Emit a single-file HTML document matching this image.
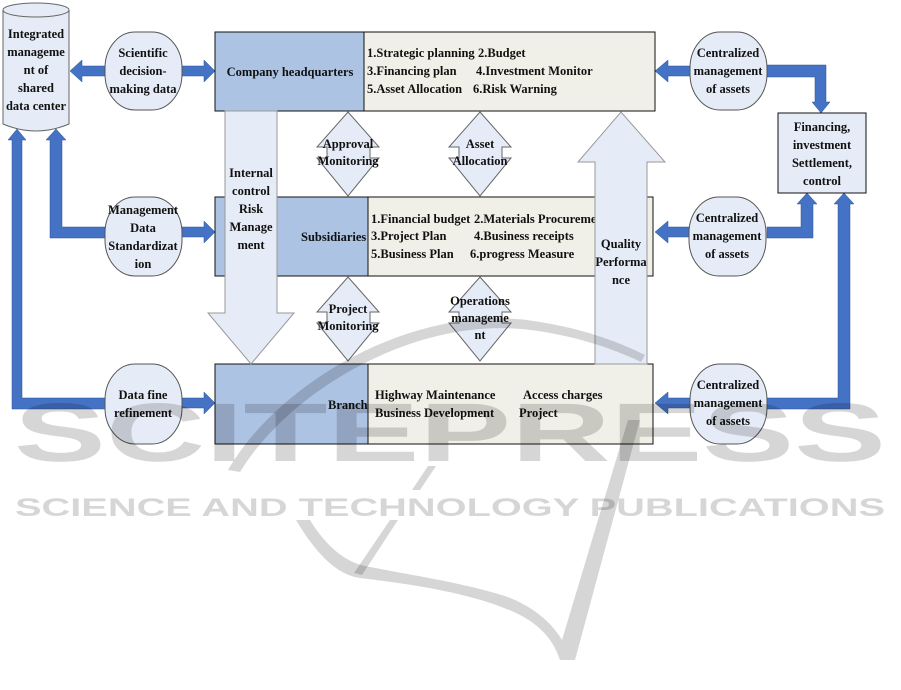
<!DOCTYPE html>
<html><head><meta charset="utf-8"><style>
html,body{margin:0;padding:0;background:#fff}
svg{display:block}
text{font-family:"Liberation Serif",serif;font-weight:bold;font-size:12.5px;fill:#111}
.c{text-anchor:middle}
</style></head><body>
<svg width="901" height="690" viewBox="0 0 901 690" xmlns="http://www.w3.org/2000/svg">

<path d="M3,10 A33,7 0 0 1 69,10 L69,124 Q36,138 3,124 Z" fill="#e6ecf7" stroke="#666" stroke-width="1"/>
<path d="M3,10 A33,7 0 0 0 69,10" fill="none" stroke="#666"/>
<text class="c" x="36" y="38">Integrated</text>
<text class="c" x="36" y="56">manageme</text>
<text class="c" x="36" y="74">nt of</text>
<text class="c" x="36" y="92">shared</text>
<text class="c" x="36" y="110">data center</text>

<g fill="#4472c4" stroke="#2f5597" stroke-width="0.5">
<polygon points="105,66 82,66 82,60 70,71 82,82 82,76 105,76"/>
<polygon points="182,66 204,66 204,60 215,71 204,82 204,76 182,76"/>
<polygon points="182,227 204,227 204,221 215,232 204,243 204,237 182,237"/>
<polygon points="182,398 204,398 204,392 215,403 204,414 204,408 182,408"/>
<polygon points="105,227 62,227 62,140 66,140 56,129 46,140 50,140 50,238 105,238"/>
<polygon points="105,398 22,398 22,140 26,140 17,129 8,140 12,140 12,409 105,409"/>
<polygon points="690,66 668,66 668,60 655,71 668,82 668,76 690,76"/>
<polygon points="690,227 668,227 668,221 655,232 668,243 668,237 690,237"/>
<polygon points="690,398 668,398 668,392 655,403 668,414 668,408 690,408"/>
<polygon points="767,65 826,65 826,102 830,102 821,113 812,102 815,102 815,77 767,77"/>
<polygon points="767,227 801,227 801,204 797,204 807,193 817,204 813,204 813,238 767,238"/>
<polygon points="767,398 838,398 838,204 834,204 844,193 854,204 850,204 850,409 767,409"/>
</g>

<g fill="#e6ecf7" stroke="#555" stroke-width="1">
<rect x="105" y="32" width="77" height="78" rx="30" ry="36"/>
<rect x="105" y="197" width="77" height="79" rx="30" ry="36"/>
<rect x="105" y="364" width="77" height="80" rx="30" ry="36"/>
<rect x="690" y="32" width="77" height="78" rx="30" ry="36"/>
<rect x="689" y="197" width="77" height="79" rx="30" ry="36"/>
<rect x="690" y="364" width="77" height="80" rx="30" ry="36"/>
</g>
<text class="c" x="143" y="57">Scientific</text>
<text class="c" x="143" y="75">decision-</text>
<text class="c" x="143" y="93">making data</text>
<text class="c" x="143" y="214">Management</text>
<text class="c" x="143" y="232">Data</text>
<text class="c" x="143" y="250">Standardizat</text>
<text class="c" x="143" y="268">ion</text>
<text class="c" x="143" y="399">Data fine</text>
<text class="c" x="143" y="417">refinement</text>
<text class="c" x="728" y="57">Centralized</text><text class="c" x="728" y="75">management</text><text class="c" x="728" y="93">of assets</text>
<text class="c" x="727" y="222">Centralized</text><text class="c" x="727" y="240">management</text><text class="c" x="727" y="258">of assets</text>
<text class="c" x="728" y="389">Centralized</text><text class="c" x="728" y="407">management</text><text class="c" x="728" y="425">of assets</text>

<rect x="778" y="113" width="88" height="80" fill="#e6ecf7" stroke="#111"/>
<text class="c" x="822" y="131">Financing,</text>
<text class="c" x="822" y="149">investment</text>
<text class="c" x="822" y="167">Settlement,</text>
<text class="c" x="822" y="185">control</text>

<g stroke="#111" stroke-width="1">
<rect x="215" y="32" width="440" height="79" fill="#f0f0e8"/>
<rect x="215" y="32" width="149" height="79" fill="#adc3e4"/>
<rect x="215" y="197" width="438" height="79" fill="#f0f0e8"/>
<rect x="215" y="197" width="153" height="79" fill="#adc3e4"/>
<rect x="215" y="364" width="438" height="80" fill="#f0f0e8"/>
<rect x="215" y="364" width="153" height="80" fill="#adc3e4"/>
</g>
<text class="c" x="290" y="76">Company headquarters</text>
<text x="367" y="57">1.Strategic planning</text><text x="478" y="57">2.Budget</text>
<text x="367" y="75">3.Financing plan</text><text x="476" y="75">4.Investment Monitor</text>
<text x="367" y="93">5.Asset Allocation</text><text x="473" y="93">6.Risk Warning</text>
<text x="301" y="241">Subsidiaries</text>
<text x="371" y="223">1.Financial budget</text><text x="474" y="223">2.Materials Procureme</text>
<text x="371" y="240">3.Project Plan</text><text x="474" y="240">4.Business receipts</text>
<text x="371" y="258">5.Business Plan</text><text x="470" y="258">6.progress Measure</text>
<text x="328" y="409">Branch</text>
<text x="375" y="399">Highway Maintenance</text><text x="523" y="399">Access charges</text>
<text x="375" y="417">Business Development</text><text x="519" y="417">Project</text>

<polygon points="225,111 277,111 277,313 294,313 251,364 208,313 225,313" fill="#e6ecf7" stroke="#999"/>
<text class="c" x="251" y="177">Internal</text>
<text class="c" x="251" y="195">control</text>
<text class="c" x="251" y="213">Risk</text>
<text class="c" x="251" y="231">Manage</text>
<text class="c" x="251" y="249">ment</text>
<polygon points="595,364 647,364 647,162 665,162 621,112 578,162 595,162" fill="#e6ecf7" stroke="#999"/>
<text class="c" x="621" y="248">Quality</text>
<text class="c" x="621" y="266">Performa</text>
<text class="c" x="621" y="284">nce</text>

<g fill="#e6ecf7" stroke="#666">
<polygon points="348,112 379,147 370,147 370,158 379,158 348,196 317,158 327,158 327,147 317,147"/>
<polygon points="480,112 511,147 502,147 502,158 511,158 480,196 449,158 459,158 459,147 449,147"/>
<polygon points="348,277 379,312 370,312 370,323 379,323 348,361 317,323 327,323 327,312 317,312"/>
<polygon points="480,277 511,312 502,312 502,323 511,323 480,361 449,323 459,323 459,312 449,312"/>
</g>
<text class="c" x="348" y="148">Approval</text>
<text class="c" x="348" y="165">Monitoring</text>
<text class="c" x="480" y="148">Asset</text>
<text class="c" x="480" y="165">Allocation</text>
<text class="c" x="348" y="313">Project</text>
<text class="c" x="348" y="330">Monitoring</text>
<text class="c" x="480" y="305">Operations</text>
<text class="c" x="480" y="322">manageme</text>
<text class="c" x="480" y="339">nt</text>

<g fill="#000" fill-opacity="0.16" stroke="none">
<path d="M228,470 C280,380 420,300 540,322 C590,330 625,345 645,355 L641,362 C620,352 585,338 538,331 C420,312 290,390 240,472 Z"/>
<path d="M296,520 C320,560 340,575 360,578 C420,585 480,595 520,615 C545,628 555,645 560,660 L575,660 L640,420 L628,420 L562,640 C550,620 530,605 505,596 C460,582 410,575 365,566 C345,562 325,545 310,520 Z"/>
<path d="M390,520 L398,520 L362,575 L354,573 Z"/>
<path d="M428,466 L436,466 L420,490 L412,490 Z"/>
<text x="450" y="461" text-anchor="middle" style="font-family:'Liberation Sans',sans-serif;font-weight:bold;font-size:83px;fill:#000;fill-opacity:0.16" textLength="872" lengthAdjust="spacingAndGlyphs">SCITEPRESS</text>
<text x="450" y="516" text-anchor="middle" style="font-family:'Liberation Sans',sans-serif;font-weight:bold;font-size:25px;fill:#000;fill-opacity:0.16" textLength="870" lengthAdjust="spacingAndGlyphs">SCIENCE AND TECHNOLOGY PUBLICATIONS</text>
</g>
</svg>
</body></html>
